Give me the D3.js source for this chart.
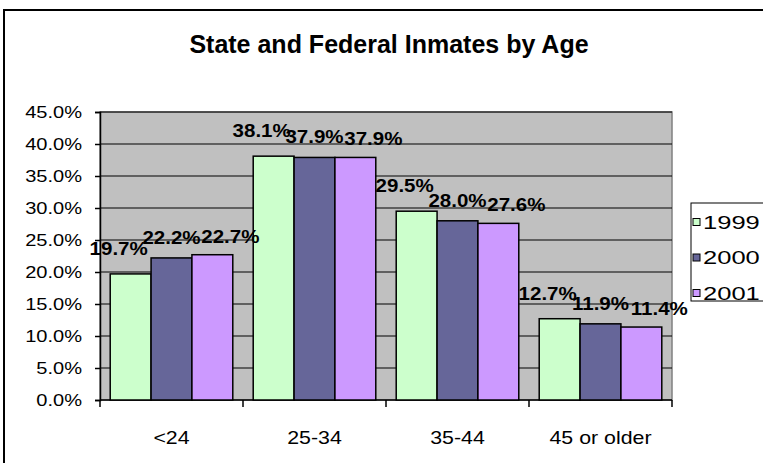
<!DOCTYPE html>
<html lang="en">
<head>
  <meta charset="UTF-8" />
  <title>State and Federal Inmates by Age</title>
  <script src="https://d3js.org/d3.v7.min.js"></script>
  <style>
    body { margin: 0; background: #fff; }
    svg { font-family: Arial, "Liberation Sans", sans-serif; display: block; }
  </style>
</head>
<body>
  <svg width="763" height="463"></svg>

  <script>
    const categories = ["<24", "25-34", "35-44", "45 or older"];
    const years = ["1999", "2000", "2001"];
    const values1999 = [19.7, 38.1, 29.5, 12.7];
    const values2000 = [22.2, 37.9, 28.0, 11.9];
    const values2001 = [22.7, 37.9, 27.6, 11.4];
    const yTicks = [0, 5, 10, 15, 20, 25, 30, 35, 40, 45];

    const seriesValues = [values1999, values2000, values2001];
    const colors = ["#CCFFCC", "#666699", "#CC99FF"];
    // Excel nudged its labels a bit differently for each series
    const labelDx = [-12, 0, 18];
    const labelDy = [19, 14, 12];

    const plot = { left: 100, right: 672, top: 112, bottom: 400 };

    const svg = d3.select("svg");

    // the original's text is drawn a little wider than normal Arial
    function place(sel, fx, fy, sx) {
      sel.attr("transform", (d, i) => `translate(${fx(d, i)},${fy(d, i)}) scale(${sx},1)`);
    }

    // outer chart frame (cut off at the right and bottom)
    svg.append("rect")
      .attr("x", 4).attr("y", 10)
      .attr("width", 800).attr("height", 500)
      .attr("fill", "#fff")
      .attr("stroke", "#000")
      .attr("stroke-width", 2);

    svg.append("text")
      .attr("x", 389).attr("y", 53)
      .attr("text-anchor", "middle")
      .attr("font-size", 25)
      .attr("font-weight", "bold")
      .text("State and Federal Inmates by Age");

    const x0 = d3.scaleBand()
      .domain(categories)
      .range([plot.left, plot.right]);

    const x1 = d3.scaleBand()
      .domain(years)
      .range([0, x0.bandwidth()])
      .paddingOuter(0.25);

    const y = d3.scaleLinear()
      .domain([0, 45])
      .range([plot.bottom, plot.top]);

    // plot area
    svg.append("rect")
      .attr("x", plot.left).attr("y", plot.top)
      .attr("width", plot.right - plot.left)
      .attr("height", plot.bottom - plot.top)
      .attr("fill", "#C0C0C0")
      .attr("stroke", "#808080")
      .attr("stroke-width", 1.5);

    svg.append("g")
      .selectAll("line")
      .data(yTicks.filter(d => d > 0))
      .join("line")
      .attr("x1", plot.left).attr("x2", plot.right)
      .attr("y1", d => y(d)).attr("y2", d => y(d))
      .attr("stroke", "#000")
      .attr("stroke-width", 1);

    // y axis
    const yAxis = svg.append("g")
      .attr("transform", `translate(${plot.left},0)`)
      .call(d3.axisLeft(y).tickValues(yTicks).tickSize(5).tickFormat(""));
    yAxis.select(".domain").attr("stroke", "#000").attr("stroke-width", 1.5);
    yAxis.selectAll(".tick line").attr("stroke-width", 1.5);

    svg.append("g")
      .selectAll("text")
      .data(yTicks)
      .join("text")
      .attr("text-anchor", "end")
      .attr("dy", "0.36em")
      .attr("font-size", 17)
      .text(d => d.toFixed(1) + "%")
      .call(place, () => 82, d => y(d), 1.18);

    // x axis: ticks sit on the category boundaries
    svg.append("line")
      .attr("x1", plot.left).attr("x2", plot.right)
      .attr("y1", plot.bottom).attr("y2", plot.bottom)
      .attr("stroke", "#000").attr("stroke-width", 1.5);

    const bounds = categories.map(c => x0(c)).concat([plot.right]);
    svg.append("g")
      .selectAll("line")
      .data(bounds)
      .join("line")
      .attr("x1", d => d).attr("x2", d => d)
      .attr("y1", plot.bottom).attr("y2", plot.bottom + 7)
      .attr("stroke", "#000").attr("stroke-width", 1.5);

    svg.append("g")
      .selectAll("text")
      .data(categories)
      .join("text")
      .attr("text-anchor", "middle")
      .attr("font-size", 17.5)
      .text(d => d)
      .call(place, d => x0(d) + x0.bandwidth() / 2, () => 444, 1.22);

    // bars
    const rows = [];
    categories.forEach((c, i) => {
      years.forEach((yr, s) => {
        rows.push({ cat: c, year: yr, s: s, value: seriesValues[s][i] });
      });
    });

    svg.append("g")
      .selectAll("rect")
      .data(rows)
      .join("rect")
      .attr("x", d => x0(d.cat) + x1(d.year))
      .attr("y", d => y(d.value))
      .attr("width", x1.bandwidth())
      .attr("height", d => y(0) - y(d.value))
      .attr("fill", d => colors[d.s])
      .attr("stroke", "#000")
      .attr("stroke-width", 1.5);

    svg.append("g")
      .selectAll("text")
      .data(rows)
      .join("text")
      .attr("text-anchor", "middle")
      .attr("font-size", 19)
      .attr("font-weight", "bold")
      .text(d => d.value.toFixed(1) + "%")
      .call(place,
        d => x0(d.cat) + x1(d.year) + x1.bandwidth() / 2 + labelDx[d.s],
        d => y(d.value) - labelDy[d.s], 1.08);

    // legend
    const legend = svg.append("g");
    legend.append("rect")
      .attr("x", 691).attr("y", 203)
      .attr("width", 100).attr("height", 98)
      .attr("fill", "#fff")
      .attr("stroke", "#000")
      .attr("stroke-width", 1);

    const items = legend.selectAll("g.item")
      .data(years)
      .join("g")
      .attr("class", "item")
      .attr("transform", (d, i) => `translate(693,${222 + i * 35.5})`);

    items.append("rect")
      .attr("x", 0).attr("y", -3.5)
      .attr("width", 7).attr("height", 7)
      .attr("fill", (d, i) => colors[i])
      .attr("stroke", "#000")
      .attr("stroke-width", 1);

    items.append("text")
      .attr("dy", "0.36em")
      .attr("font-size", 18.5)
      .text(d => d)
      .call(place, () => 10, () => 0, 1.38);
  </script>
</body>
</html>
